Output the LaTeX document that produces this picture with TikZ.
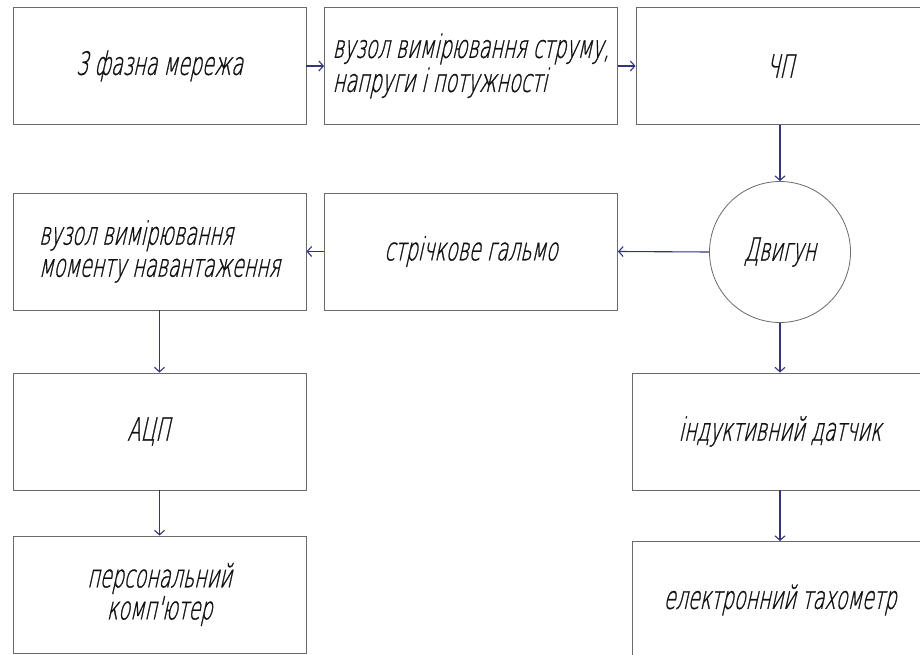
\documentclass[tikz,border=0pt]{standalone}
\usepackage{fontspec}
\newfontfamily\gost{DejaVu Sans ExtraLight}[FakeSlant=0.22,FakeStretch=0.6,FakeBold=0.8]
\usetikzlibrary{arrows.meta}
\definecolor{boxgray}{HTML}{6A6A6A}
\definecolor{arrowblue}{HTML}{34347C}
\definecolor{txt}{HTML}{111111}
\begin{document}
\begin{tikzpicture}[x=1pt,y=-1pt,
  blk/.style={draw=boxgray,line width=0.9pt,fill=white,inner sep=0pt,
    minimum width=293pt,minimum height=117pt,font=\gost\fontsize{32}{32}\selectfont,text=txt},
  wide/.style={minimum width=296pt},
  circ/.style={draw=boxgray,line width=0.8pt,circle,minimum size=141pt,inner sep=0pt,
    font=\gost\fontsize{32}{32}\selectfont,text=txt},
  conn/.style={draw=arrowblue,line width=1.1pt,-{Straight Barb[length=4.5pt,width=10pt,line width=1.1pt]}}]
\clip (0,0) rectangle (920,655);
\fill[white] (0,0) rectangle (920,655);
% top row
\node[blk] (net) at (159.5,66) {3 фазна мережа};
\node[blk,align=left] (meas) at (471,66) {вузол вимірювання струму,\\[2pt] напруги і потужності};
\node[blk,minimum width=288pt] (chp) at (780,66) {ЧП};
% motor
\node[circ] (motor) at (780,252) {Двигун};
% middle row
\node[blk] (brake) at (471,251.5) {стрічкове гальмо};
\node[blk,align=left] (torque) at (159.5,251.5) {вузол вимірювання\\моменту навантаження};
% left column
\node[blk] (adc) at (159.5,431.5) {\hspace*{-22pt}АЦП};
\node[blk,align=center] (pc) at (159.5,594.5) {персональний\\комп'ютер};
% right column
\node[blk,wide] (ind) at (780,431.5) {індуктивний датчик};
\node[blk,wide] (tach) at (780,600) {електронний тахометр};
% connectors
\draw[conn] (net.east) -- (meas.west);
\draw[conn] (meas.east) -- (chp.west);
\draw[conn] (chp.south) -- (motor.north);
\draw[conn] (motor.west) -- (brake.east);
\draw[conn] (brake.west) -- (torque.east);
\draw[conn] (torque.south) -- (adc.north);
\draw[conn] (adc.south) -- (pc.north);
\draw[conn] (motor.south) -- (ind.north);
\draw[conn] (ind.south) -- (tach.north);
\end{tikzpicture}
\end{document}
